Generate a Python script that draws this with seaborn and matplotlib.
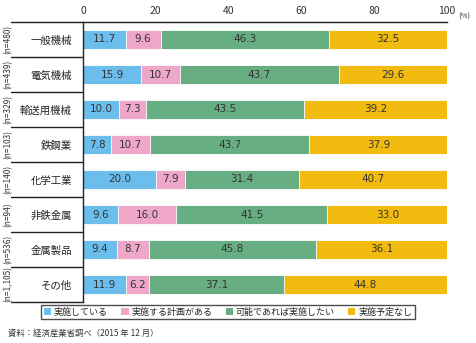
import matplotlib
matplotlib.use("Agg")
import matplotlib.pyplot as plt
import seaborn as sns
import numpy as np
import pandas as pd
from matplotlib.patches import Patch
from matplotlib.lines import Line2D

sns.set_style("white")
plt.rcParams['font.family'] = ['Noto Sans CJK JP', 'DejaVu Sans']

categories = ["一般機械", "電気機械", "輸送用機械", "鉄鋼業", "化学工業", "非鉄金属", "金属製品", "その他"]
n_labels = ["(n=480)", "(n=439)", "(n=329)", "(n=103)", "(n=140)", "(n=94)", "(n=536)", "(n=1,105)"]
series_names = ["実施している", "実施する計画がある", "可能であれば実施したい", "実施予定なし"]
v_doing = [11.7, 15.9, 10.0, 7.8, 20.0, 9.6, 9.4, 11.9]
v_plan = [9.6, 10.7, 7.3, 10.7, 7.9, 16.0, 8.7, 6.2]
v_want = [46.3, 43.7, 43.5, 43.7, 31.4, 41.5, 45.8, 37.1]
v_none = [32.5, 29.6, 39.2, 37.9, 40.7, 33.0, 36.1, 44.8]
colors = ["#6BBEEC", "#EEA7C9", "#68AE83", "#F2BB10"]
xticks = [0, 20, 40, 60, 80, 100]

W, H = 477, 343
fig = plt.figure(figsize=(W / 100, H / 100), dpi=100)
ax = fig.add_axes([83 / W, 1 - 302 / H, (447 - 83) / W, (302 - 22) / H])

vals = np.array([v_doing, v_plan, v_want, v_none])
cum = np.cumsum(vals, axis=0)
df = pd.DataFrame({"cat": categories})
for i in range(4):
    df[f"c{i}"] = cum[i]

for i in [3, 2, 1, 0]:
    sns.barplot(data=df, x=f"c{i}", y="cat", order=categories, color=colors[i],
                width=0.57, ax=ax, orient="h", saturation=1, edgecolor="white", linewidth=0.6)

for r in range(len(categories)):
    left = 0
    for i in range(4):
        v = vals[i][r]
        ax.text(left + v / 2, r, f"{v:.1f}", ha="center", va="center",
                fontsize=7.5, color="#333333", family=["DejaVu Sans"])
        left += v

ax.set_xlim(0, 100)
ax.set_ylim(7.5, -0.5)
ax.xaxis.tick_top()
ax.set_xticks(xticks)
ax.set_xticklabels([str(t) for t in xticks], fontsize=7.5, color="#333333")
ax.tick_params(axis="x", length=0, pad=4)
ax.set_xlabel("")
ax.set_ylabel("")
ax.set_yticks(range(len(categories)))
ax.set_yticklabels(categories, fontsize=7.5, color="#222222")
ax.tick_params(axis="y", length=0, pad=8)
for s in ["right", "bottom"]:
    ax.spines[s].set_visible(False)
ax.spines["top"].set_color("#222222")
ax.spines["left"].set_color("#222222")
ax.spines["top"].set_linewidth(1.0)
ax.spines["left"].set_linewidth(1.0)

# left separators
x0 = 11 / W
x1 = 83 / W
for k in range(len(categories) + 1):
    yy = 1 - (22 + k * 35) / H
    fig.add_artist(Line2D([x0, x1], [yy, yy], color="#222222", linewidth=1.0))
    if k < len(categories):
        yc = 1 - (22 + k * 35 + 17.5) / H
        fig.text(8 / W, yc, n_labels[k], rotation=90, ha="center", va="center",
                 fontsize=6, color="#333333")

fig.text(458 / W, 1 - 17 / H, "(%)", fontsize=5.5, color="#333333", ha="left", va="center")

handles = [Patch(facecolor=c, edgecolor="none") for c in colors]
leg = fig.legend(handles, series_names, loc="center", bbox_to_anchor=(228 / W, 1 - 312 / H),
                 ncol=4, fontsize=6.5, frameon=True, fancybox=False, edgecolor="#222222",
                 handlelength=0.8, handleheight=0.8, handletextpad=0.3, columnspacing=1.5,
                 borderpad=0.3, borderaxespad=0)
leg.get_frame().set_linewidth(1.0)

fig.text(8 / W, 1 - 333 / H, "資料：経済産業省調べ（2015 年 12 月）", fontsize=6, color="#333333",
         ha="left", va="center")

fig.savefig("out.png", dpi=100)
